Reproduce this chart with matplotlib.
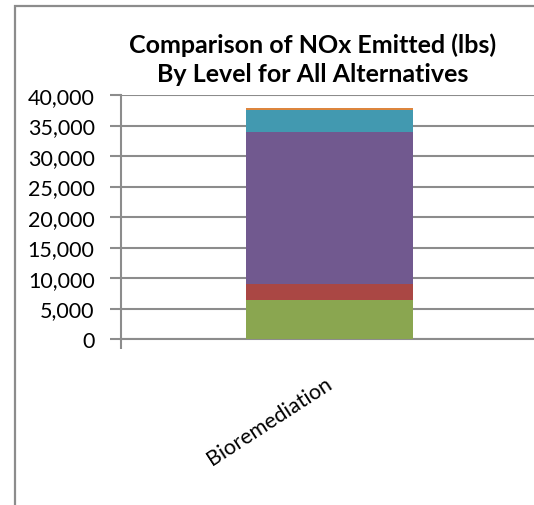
import matplotlib.pyplot as plt
import matplotlib.patches as mpatches
import matplotlib.transforms as mtransforms
from matplotlib.ticker import FuncFormatter, FixedLocator

# stacked NOx totals (lbs) per level, bottom to top
alternatives = ["Bioremediation"]
level_values = [
    [6400],   # level 1
    [2600],   # level 2
    [25000],  # level 3
    [3600],   # level 4
    [200],    # level 5
]
level_colors = ["#8aa650", "#aa4744", "#71598f", "#4299b0", "#dc853e"]

plt.rcParams['font.family'] = ['Lato', 'DejaVu Sans']

fig = plt.figure(figsize=(5.34, 5.06), dpi=100)
W, H = 534, 506

# outer chart frame (runs off the right and bottom edges)
frame = mpatches.Rectangle((14.5 / W, -0.05), 1.2, 1 - 6.5 / H + 0.05,
                           transform=fig.transFigure, fill=False,
                           edgecolor="#8c8c8c", linewidth=1.6, zorder=0)
fig.add_artist(frame)

ax = fig.add_axes([121 / W, (H - 340) / H, (538 - 121) / W, (340 - 96) / H])

x = list(range(len(alternatives)))
bottom = [0] * len(alternatives)
for vals, col in zip(level_values, level_colors):
    ax.bar(x, vals, width=0.4, bottom=bottom, color=col, zorder=3)
    bottom = [b + v for b, v in zip(bottom, vals)]

ax.set_xlim(-0.5, len(alternatives) - 0.5)
ax.set_ylim(0, 40000)
ax.set_yticks(range(0, 40001, 5000))
ax.yaxis.set_major_formatter(FuncFormatter(lambda v, p: f"{int(v):,}"))
ax.yaxis.grid(True, color="#8c8c8c", linewidth=1.5, zorder=0)
ax.tick_params(axis="y", length=8, width=1.5, color="#8c8c8c",
               labelsize=15.5, pad=11)

# category ticks sit on the boundaries, labels on the centers
ax.xaxis.set_major_locator(FixedLocator([-0.5, 0.5]))
ax.xaxis.set_major_formatter(FuncFormatter(lambda v, p: ""))
ax.xaxis.set_minor_locator(FixedLocator(x))
ax.set_xticklabels(alternatives, minor=True, rotation=33, ha="right",
                   rotation_mode="anchor", fontsize=15.5)
ax.tick_params(axis="x", which="major", length=7, width=1.5, color="#8c8c8c")
ax.tick_params(axis="x", which="minor", length=0, pad=24)
shift = mtransforms.ScaledTranslation(-5 / 100, 0, fig.dpi_scale_trans)
for lab in ax.get_xticklabels(minor=True):
    lab.set_transform(lab.get_transform() + shift)

for side in ["top", "right"]:
    ax.spines[side].set_visible(False)
for side in ["left", "bottom"]:
    ax.spines[side].set_color("#8c8c8c")
    ax.spines[side].set_linewidth(1.5)

fig.text(313 / W, 1 - 60 / H, "Comparison of NOx Emitted (lbs)\nBy Level for All Alternatives",
         ha="center", va="center", fontsize=18, fontweight="bold",
         linespacing=1.3)

fig.savefig("out.png", dpi=100)
